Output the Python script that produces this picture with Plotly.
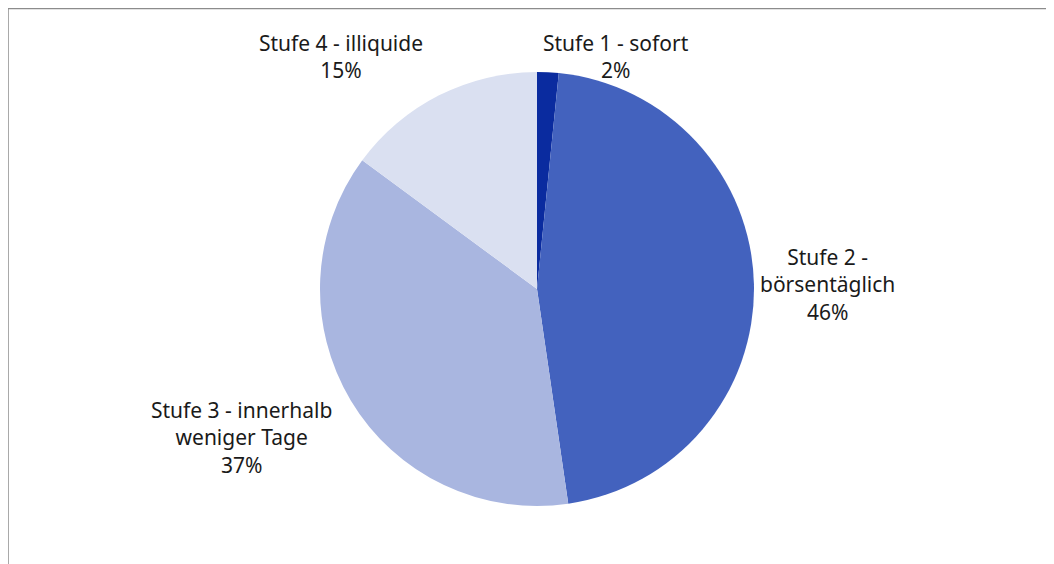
import plotly.graph_objects as go

categories = ["Stufe 1 - sofort", "Stufe 2 -<br>börsentäglich", "Stufe 3 - innerhalb<br>weniger Tage", "Stufe 4 - illiquide"]
values = [1.6, 46.1, 37.4, 14.9]
pct_labels = ["2%", "46%", "37%", "15%"]
colors = ["#0A2B9F", "#4362BE", "#A9B6E0", "#DAE0F1"]

OFF = 8  # page body margin
W, H = 1054 - OFF, 564 - OFF

cx, cy, R = 537 - OFF, 289 - OFF, 217  # pie center/radius in figure pixels (from top-left)

fig = go.Figure(go.Pie(
    labels=categories,
    values=values,
    sort=False,
    direction="clockwise",
    rotation=0,
    marker=dict(colors=colors, line=dict(width=0)),
    textinfo="none",
    hoverinfo="label+percent",
    showlegend=False,
    domain=dict(x=[(cx - R) / W, (cx + R) / W], y=[(H - cy - R) / H, (H - cy + R) / H]),
))

# label anchor positions (page pixel centers of text blocks)
label_pos = [(616, 56), (827, 284), (241, 437), (341, 56)]
for cat, pct, (px, py) in zip(categories, pct_labels, label_pos):
    fig.add_annotation(
        x=(px - OFF) / W, y=1 - (py - OFF) / H, xref="paper", yref="paper",
        text=f"{cat}<br>{pct}", showarrow=False,
        xanchor="center", yanchor="middle", align="center",
        font=dict(family="Noto Sans", size=21, color="#1a1a1a"),
    )

# chart border along top/left edge (cut off at right/bottom)
line = dict(color="#8c8c8c", width=1.5)
fig.add_shape(type="line", xref="paper", yref="paper", x0=0, x1=1.02, y0=1 - 0.5 / H, y1=1 - 0.5 / H, line=line)
fig.add_shape(type="line", xref="paper", yref="paper", x0=0, x1=0, y0=-0.02, y1=1 - 0.5 / H, line=line)

fig.update_layout(
    width=W, height=H,
    margin=dict(l=0, r=0, t=0, b=0),
    paper_bgcolor="white", plot_bgcolor="white",
)

fig.write_html("out.html")
